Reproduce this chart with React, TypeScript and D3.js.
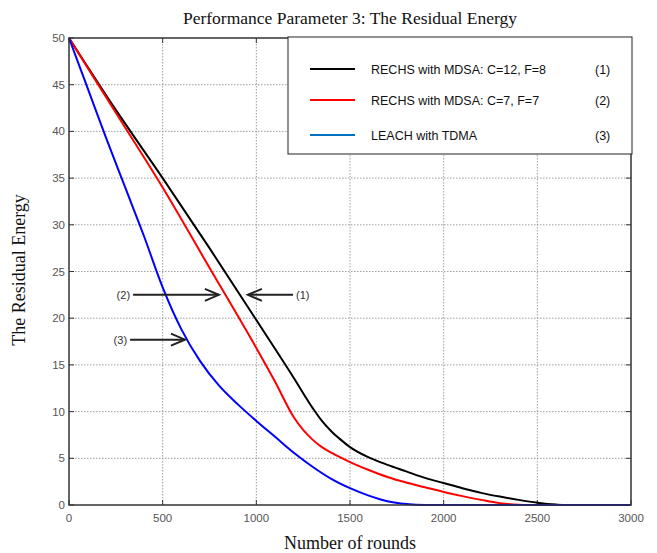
import React from "react";
import * as d3 from "d3";

const xTicks = [0, 500, 1000, 1500, 2000, 2500, 3000];
const yTicks = [0, 5, 10, 15, 20, 25, 30, 35, 40, 45, 50];

const roundsBlack = [0, 250, 500, 750, 1000, 1200, 1300, 1350, 1400, 1450, 1500, 1600, 1700, 1800, 1900, 2000, 2100, 2200, 2300, 2400, 2500, 2600, 2650, 3000];
const energyBlack = [50, 42.3, 35, 27.5, 19.8, 13.6, 10.4, 9.0, 7.9, 7.0, 6.2, 5.1, 4.3, 3.6, 2.9, 2.35, 1.8, 1.3, 0.9, 0.55, 0.25, 0.05, 0, 0];

const roundsRed = [0, 250, 500, 750, 1000, 1100, 1200, 1300, 1350, 1400, 1500, 1600, 1700, 1800, 1900, 2000, 2100, 2200, 2300, 2400, 2450, 3000];
const energyRed = [50, 42, 34, 25.4, 16.8, 13.2, 9.4, 7.0, 6.2, 5.6, 4.6, 3.75, 3, 2.4, 1.9, 1.4, 0.95, 0.55, 0.2, 0.02, 0, 0];

const roundsBlue = [0, 100, 200, 300, 400, 500, 600, 700, 800, 900, 1000, 1100, 1200, 1300, 1400, 1500, 1600, 1700, 1800, 1900, 3000];
const energyBlue = [50, 44.6, 39.2, 34, 28.8, 23.3, 18.8, 15.4, 12.8, 10.8, 9.0, 7.3, 5.6, 4.1, 2.8, 1.8, 1, 0.4, 0.1, 0, 0];

const legendLabels = ["RECHS with MDSA: C=12, F=8", "RECHS with MDSA: C=7, F=7", "LEACH with TDMA"];
const legendNums = ["(1)", "(2)", "(3)"];
const lineColors = ["#000000", "#ff0000", "#0000ff"];
const legendColors = ["#000000", "#ff0000", "#0070c0"];

const annLabels = ["(2)", "(1)", "(3)"];
const annTipX = [800, 955, 619];
const annTipY = [22.5, 22.5, 17.7];
const annTailX = [342, 1196, 326];
const annSide = ["left", "right", "left"];

export default function App() {
  const W = 657, H = 553;
  const x0 = 69, x1 = 631, y0 = 505, y1 = 38;
  const x = d3.scaleLinear().domain([0, 3000]).range([x0, x1]);
  const y = d3.scaleLinear().domain([0, 50]).range([y0, y1]);
  const line = d3.line<[number, number]>().x(d => x(d[0])).y(d => y(d[1])).curve(d3.curveMonotoneX);

  const series = [
    { r: roundsBlack, e: energyBlack },
    { r: roundsRed, e: energyRed },
    { r: roundsBlue, e: energyBlue },
  ];

  const tickFont = "Liberation Sans, Arial, sans-serif";
  const serif = "Liberation Serif, Times New Roman, serif";

  return (
    <svg width={W} height={H} style={{ position: "absolute", left: 0, top: 0, background: "#fff" }}>
      <rect x={0} y={0} width={W} height={H} fill="#fff" />
      <text x={350} y={24} textAnchor="middle" fontFamily={serif} fontSize={17.5} fill="#111">
        Performance Parameter 3: The Residual Energy
      </text>
      {/* grid */}
      {xTicks.slice(1, -1).map(t => (
        <line key={"gx" + t} x1={x(t)} x2={x(t)} y1={y1} y2={y0} stroke="#888" strokeWidth={0.8} strokeDasharray="1.5,1.5" />
      ))}
      {yTicks.slice(1, -1).map(t => (
        <line key={"gy" + t} x1={x0} x2={x1} y1={y(t)} y2={y(t)} stroke="#888" strokeWidth={0.8} strokeDasharray="1.5,1.5" />
      ))}
      {/* ticks inside */}
      {xTicks.map(t => (
        <g key={"tx" + t}>
          <line x1={x(t)} x2={x(t)} y1={y0} y2={y0 - 5} stroke="#333" />
          <line x1={x(t)} x2={x(t)} y1={y1} y2={y1 + 5} stroke="#333" />
          <text x={x(t)} y={y0 + 17} textAnchor="middle" fontFamily={tickFont} fontSize={11.5} fill="#555">{t}</text>
        </g>
      ))}
      {yTicks.map(t => (
        <g key={"ty" + t}>
          <line x1={x0} x2={x0 + 5} y1={y(t)} y2={y(t)} stroke="#333" />
          <line x1={x1} x2={x1 - 5} y1={y(t)} y2={y(t)} stroke="#333" />
          <text x={x0 - 4} y={y(t) + 4} textAnchor="end" fontFamily={tickFont} fontSize={11.5} fill="#555">{t}</text>
        </g>
      ))}
      {/* curves */}
      {series.map((s, i) => (
        <path key={"s" + i} d={line(s.r.map((r, j) => [r, s.e[j]] as [number, number])) || ""} fill="none" stroke={lineColors[i]} strokeWidth={2} />
      ))}
      {/* box */}
      <rect x={x0} y={y1} width={x1 - x0} height={y0 - y1} fill="none" stroke="#333" strokeWidth={1.5} />
      {/* legend */}
      <rect x={288} y={37} width={344} height={117} fill="#fff" stroke="#222" strokeWidth={1} />
      {legendLabels.map((l, i) => {
        const ly = [69, 100, 135][i];
        return (
          <g key={"lg" + i}>
            <line x1={310} x2={355} y1={ly} y2={ly} stroke={legendColors[i]} strokeWidth={2} />
            <text x={371} y={ly + 4.5} fontFamily={tickFont} fontSize={12.5} fill="#111">{l}</text>
            <text x={595} y={ly + 4.5} fontFamily={tickFont} fontSize={12.5} fill="#111">{legendNums[i]}</text>
          </g>
        );
      })}
      {/* annotations */}
      {annLabels.map((l, i) => {
        const tx = x(annTipX[i]);
        const ty = y(annTipY[i]);
        const sx = x(annTailX[i]);
        const dir = annSide[i] === "left" ? 1 : -1;
        return (
          <g key={"an" + i}>
            <line x1={sx} x2={tx} y1={ty} y2={ty} stroke="#222" strokeWidth={2} />
            <path d={`M${tx - dir * 14},${ty - 6} L${tx},${ty} L${tx - dir * 14},${ty + 6}`} fill="none" stroke="#222" strokeWidth={2} />
            <text x={annSide[i] === "left" ? sx - 3 : sx + 3} y={ty + 4} textAnchor={annSide[i] === "left" ? "end" : "start"} fontFamily={tickFont} fontSize={11} fill="#333">{l}</text>
          </g>
        );
      })}
      {/* axis labels */}
      <text x={350} y={549} textAnchor="middle" fontFamily={serif} fontSize={18} fill="#111">Number of rounds</text>
      <text transform={`translate(25,270) rotate(-90)`} textAnchor="middle" fontFamily={serif} fontSize={18} fill="#111">The Residual Energy</text>
    </svg>
  );
}
